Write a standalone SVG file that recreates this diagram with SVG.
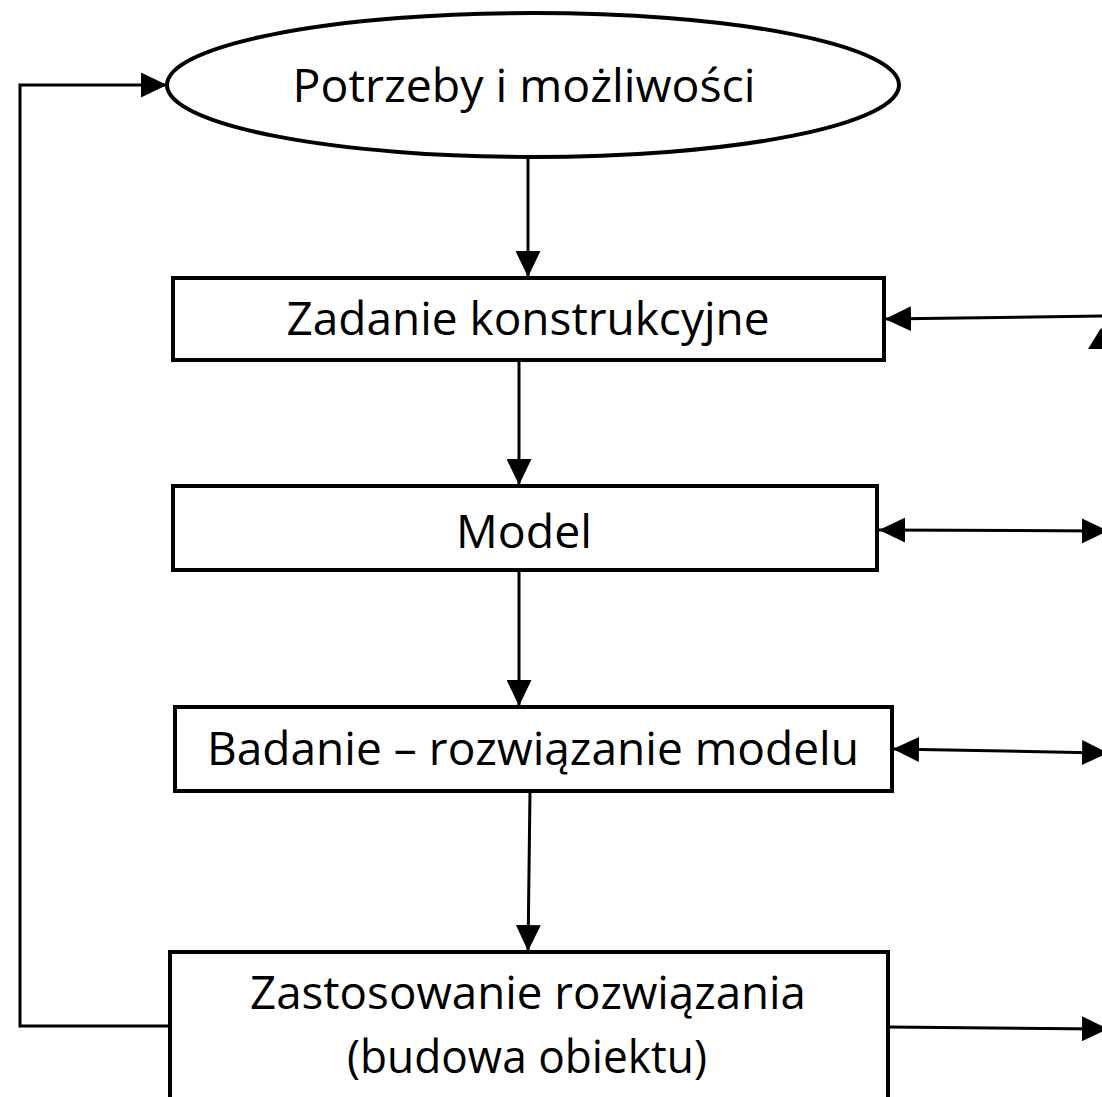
<svg xmlns="http://www.w3.org/2000/svg" width="1102" height="1097" viewBox="0 0 1102 1097">
  <style>
    .shape { fill: #ffffff; stroke: #000000; stroke-width: 4; }
    .label { font-family: "Open Sans", "Noto Sans", "Liberation Sans", sans-serif; font-size: 46px; fill: #000000; text-anchor: middle; }
    .link { fill: none; stroke: #000000; stroke-width: 3; }
  </style>
  <defs>
    <marker id="arrow" viewBox="0 0 26 25" refX="26" refY="12.5" markerWidth="26" markerHeight="25" markerUnits="userSpaceOnUse" orient="auto-start-reverse">
      <path d="M0,0 L26,12.5 L0,25 z" fill="#000000"/>
    </marker>
  </defs>
  <rect width="1102" height="1097" fill="#ffffff"/>

  <g id="connectors">
    <!-- vertical flow -->
    <line class="link" x1="528" y1="157" x2="528" y2="277" marker-end="url(#arrow)"/>
    <line class="link" x1="519" y1="360" x2="519" y2="485" marker-end="url(#arrow)"/>
    <line class="link" x1="519" y1="570" x2="519" y2="706" marker-end="url(#arrow)"/>
    <line class="link" x1="530" y1="791" x2="528" y2="951" marker-end="url(#arrow)"/>
    <!-- feedback loop to the top -->
    <polyline class="link" points="170,1026 20,1026 20,85 167,85" marker-end="url(#arrow)"/>
    <!-- side links -->
    <line class="link" x1="1102" y1="316" x2="885" y2="319" marker-end="url(#arrow)"/>
    <line class="link" x1="879" y1="530" x2="1108" y2="531" marker-start="url(#arrow)" marker-end="url(#arrow)"/>
    <line class="link" x1="893" y1="749" x2="1108" y2="753" marker-start="url(#arrow)" marker-end="url(#arrow)"/>
    <line class="link" x1="889" y1="1027" x2="1108" y2="1029" marker-end="url(#arrow)"/>
    <polygon points="1101,328 1088,349 1114,349" fill="#000000"/>
  </g>

  <g id="node-potrzeby">
    <ellipse class="shape" cx="533" cy="85" rx="366" ry="72"/>
    <text class="label" x="524" y="102" textLength="463" lengthAdjust="spacingAndGlyphs">Potrzeby i możliwości</text>
  </g>

  <g id="node-zadanie">
    <rect class="shape" x="173" y="278" width="711" height="82"/>
    <text class="label" x="528" y="335" textLength="483" lengthAdjust="spacingAndGlyphs">Zadanie konstrukcyjne</text>
  </g>

  <g id="node-model">
    <rect class="shape" x="173" y="486" width="704" height="84"/>
    <text class="label" x="524" y="548" textLength="136" lengthAdjust="spacingAndGlyphs">Model</text>
  </g>

  <g id="node-badanie">
    <rect class="shape" x="175" y="707" width="717" height="84"/>
    <text class="label" x="533" y="765" textLength="652" lengthAdjust="spacingAndGlyphs">Badanie – rozwiązanie modelu</text>
  </g>

  <g id="node-zastosowanie">
    <rect class="shape" x="170" y="952" width="718" height="160"/>
    <text class="label" x="528" y="1009" textLength="556" lengthAdjust="spacingAndGlyphs">Zastosowanie rozwiązania</text>
    <text class="label" x="527" y="1073" textLength="360" lengthAdjust="spacingAndGlyphs">(budowa obiektu)</text>
  </g>
</svg>
